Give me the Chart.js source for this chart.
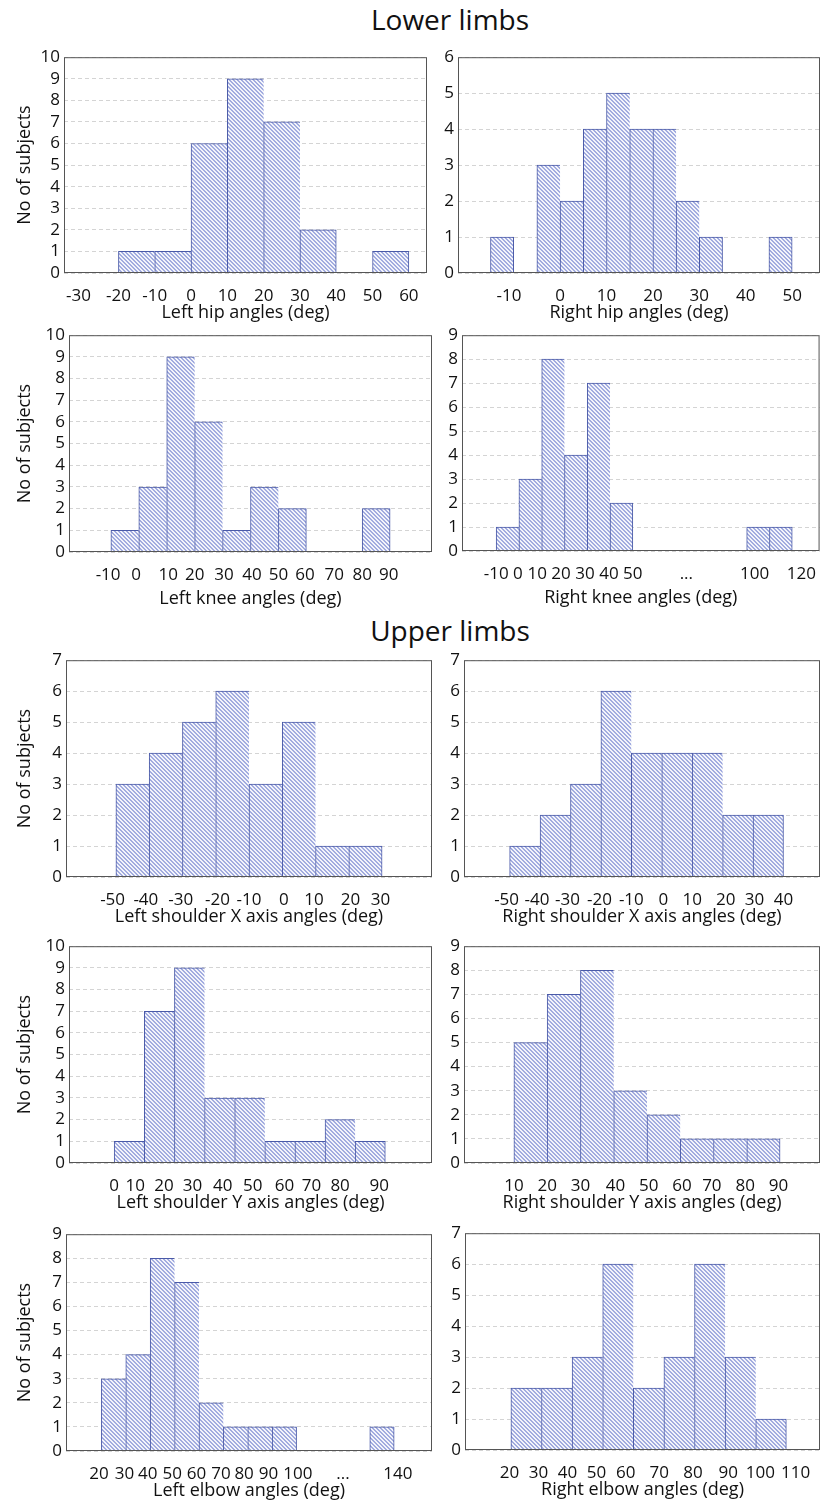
<!DOCTYPE html>
<html>
<head>
<meta charset="utf-8">
<script src="https://cdn.jsdelivr.net/npm/chart.js@4.4.1/dist/chart.umd.min.js"></script>
<style>
    body { margin: 0; background: #fff; width: 821px; height: 1502px; position: relative; overflow: hidden; font-family: "Open Sans", sans-serif; }
    .heading { position: absolute; left: 0; width: 900px; text-align: center; font-size: 28px; line-height: 30px; color: #111; }
    .panel { position: absolute; }
</style>
</head>
<body>
<div class="heading" style="top:4px">Lower limbs</div>
<div class="heading" style="top:615px">Upper limbs</div>
<script>
// bins are given by their lower edge (deg), counts are No of subjects
const leftHipBins = [-20, -10, 0, 10, 20, 30, 50];
const leftHipCounts = [1, 1, 6, 9, 7, 2, 1];
const leftHipTicks = [-31, -20, -10, 0, 10, 20, 30, 40, 50, 60];
const leftHipLabels = ['-30', '-20', '-10', '0', '10', '20', '30', '40', '50', '60'];

const rightHipBins = [-15, -5, 0, 5, 10, 15, 20, 25, 30, 45];
const rightHipCounts = [1, 3, 2, 4, 5, 4, 4, 2, 1, 1];
const rightHipTicks = [-11, 0, 10, 20, 30, 40, 50];
const rightHipLabels = ['-10', '0', '10', '20', '30', '40', '50'];

const leftKneeBins = [-10, 0, 10, 20, 30, 40, 50, 80];
const leftKneeCounts = [1, 3, 9, 6, 1, 3, 2, 2];
const leftKneeTicks = [-11, -1, 10.5, 20, 30.5, 40.5, 50, 59.5, 70, 80, 89.5];
const leftKneeLabels = ['-10', '0', '10', '20', '30', '40', '50', '60', '70', '80', '90'];

const rightKneeBins = [-10, 0, 10, 20, 30, 40, 100, 110];
const rightKneeCounts = [1, 3, 8, 4, 7, 2, 1, 1];
const rightKneeTicks = [-10, -0.5, 8, 18.5, 29, 39.5, 50, 73.5, 103.5, 124];
const rightKneeLabels = ['-10', '0', '10', '20', '30', '40', '50', '...', '100', '120'];

const leftShXBins = [-50, -40, -30, -20, -10, 0, 10, 20];
const leftShXCounts = [3, 4, 5, 6, 3, 5, 1, 1];
const leftShXTicks = [-51, -41, -30.5, -19.5, -10, 0.5, 9.5, 20.5, 29.5];
const leftShXLabels = ['-50', '-40', '-30', '-20', '-10', '0', '10', '20', '30'];

const rightShXBins = [-50, -40, -30, -20, -10, 0, 10, 20, 30];
const rightShXCounts = [1, 2, 3, 6, 4, 4, 4, 2, 2];
const rightShXTicks = [-51, -41, -31, -20.5, -10, 0.5, 10, 21, 30.5, 40];
const rightShXLabels = ['-50', '-40', '-30', '-20', '-10', '0', '10', '20', '30', '40'];

const leftShYBins = [0, 10, 20, 30, 40, 50, 60, 70, 80];
const leftShYCounts = [1, 7, 9, 3, 3, 1, 1, 2, 1];
const leftShYTicks = [0, 7, 16.5, 26, 36, 46, 56.5, 65.5, 75, 88];
const leftShYLabels = ['0', '10', '20', '30', '40', '50', '60', '70', '80', '90'];

const rightShYBins = [10, 20, 30, 40, 50, 60, 70, 80];
const rightShYCounts = [5, 7, 8, 3, 2, 1, 1, 1];
const rightShYTicks = [10, 20, 30, 40.5, 50.5, 60.5, 69.5, 79.5, 89.5];
const rightShYLabels = ['10', '20', '30', '40', '50', '60', '70', '80', '90'];

const leftElbowBins = [20, 30, 40, 50, 60, 70, 80, 90, 130];
const leftElbowCounts = [3, 4, 8, 7, 2, 1, 1, 1, 1];
const leftElbowTicks = [19, 29.5, 39, 49, 59, 69, 78.5, 88.5, 100.5, 119, 141.5];
const leftElbowLabels = ['20', '30', '40', '50', '60', '70', '80', '90', '100', '...', '140'];

const rightElbowBins = [20, 30, 40, 50, 60, 70, 80, 90, 100];
const rightElbowCounts = [2, 2, 3, 6, 2, 3, 6, 3, 1];
const rightElbowTicks = [19.5, 29, 38.5, 48, 57.5, 68.5, 79.5, 91, 101.5, 113];
const rightElbowLabels = ['20', '30', '40', '50', '60', '70', '80', '90', '100', '110'];

// layout of the panels: plot box [left, top, right, bottom] in page pixels
let panels = [
    {title: 'Left hip angles (deg)', bins: leftHipBins, counts: leftHipCounts, ticks: leftHipTicks, labels: leftHipLabels, step: 10, xr: [-35, 65], ymax: 10, col: 0, box: [64, 55, 427, 273], xh: 51},
    {title: 'Right hip angles (deg)', bins: rightHipBins, counts: rightHipCounts, ticks: rightHipTicks, labels: rightHipLabels, step: 5, xr: [-22, 56], ymax: 6, col: 1, box: [458, 55, 820, 273], xh: 51},
    {title: 'Left knee angles (deg)', bins: leftKneeBins, counts: leftKneeCounts, ticks: leftKneeTicks, labels: leftKneeLabels, step: 10, xr: [-25, 105], ymax: 10, col: 0, box: [69, 333, 432, 552], xh: 58},
    {title: 'Right knee angles (deg)', bins: rightKneeBins, counts: rightKneeCounts, ticks: rightKneeTicks, labels: rightKneeLabels, step: 10, xr: [-25, 132], ymax: 9, col: 1, box: [462, 333, 820, 551], xh: 58},
    {title: 'Left shoulder X axis angles (deg)', bins: leftShXBins, counts: leftShXCounts, ticks: leftShXTicks, labels: leftShXLabels, step: 10, xr: [-65, 45], ymax: 7, col: 0, box: [66, 658, 432, 877], xh: 51},
    {title: 'Right shoulder X axis angles (deg)', bins: rightShXBins, counts: rightShXCounts, ticks: rightShXTicks, labels: rightShXLabels, step: 10, xr: [-65, 52], ymax: 7, col: 1, box: [464, 658, 820, 877], xh: 51},
    {title: 'Left shoulder Y axis angles (deg)', bins: leftShYBins, counts: leftShYCounts, ticks: leftShYTicks, labels: leftShYLabels, step: 10, xr: [-15, 105.5], ymax: 10, col: 0, box: [69, 944, 432, 1163], xh: 51},
    {title: 'Right shoulder Y axis angles (deg)', bins: rightShYBins, counts: rightShYCounts, ticks: rightShYTicks, labels: rightShYLabels, step: 10, xr: [-5, 102], ymax: 9, col: 1, box: [464, 944, 820, 1163], xh: 51},
    {title: 'Left elbow angles (deg)', bins: leftElbowBins, counts: leftElbowCounts, ticks: leftElbowTicks, labels: leftElbowLabels, step: 10, xr: [5.5, 155.5], ymax: 9, col: 0, box: [66, 1232, 432, 1451], xh: 51},
    {title: 'Right elbow angles (deg)', bins: rightElbowBins, counts: rightElbowCounts, ticks: rightElbowTicks, labels: rightElbowLabels, step: 10, xr: [5, 121], ymax: 7, col: 1, box: [465, 1231, 820, 1450], xh: 51}
];

const tickFont = {family: '"Open Sans", sans-serif', size: 17};
const titleFont = {family: '"Open Sans", sans-serif', size: 18};
const textColor = '#111';

// plot frame round the chart area
const framePlugin = {
    id: 'frame',
    afterDraw(chart) {
        let a = chart.chartArea;
        let c = chart.ctx;
        c.save();
        c.strokeStyle = '#555';
        c.lineWidth = 1;
        c.strokeRect(a.left + 0.5, a.top + 0.5, a.right - a.left - 1, a.bottom - a.top - 1);
        c.restore();
    }
};

function hatchFor(ctx) {
    let tile = document.createElement('canvas');
    tile.width = 4;
    tile.height = 4;
    let t = tile.getContext('2d');
    t.fillStyle = '#f3f4fb';
    t.fillRect(0, 0, 4, 4);
    t.fillStyle = '#a2acdf';
    for (let i = 0; i < 4; i++) {
        t.fillRect(i, i, 1, 1);
        t.fillRect((i + 1) % 4, i, 1, 1);
    }
    return ctx.createPattern(tile, 'repeat');
}

function makeHistogram(p) {
    let padTop = 12, padRight = 1;
    let [L, T, R, B] = p.box;
    let yW = p.col === 0 ? L : 40;
    let x0 = L - yW;
    let w = R + padRight - x0;
    let h = padTop + (B - T) + p.xh;

    let div = document.createElement('div');
    div.className = 'panel';
    div.style.left = x0 + 'px';
    div.style.top = (T - padTop) + 'px';
    let canvas = document.createElement('canvas');
    canvas.width = w;
    canvas.height = h;
    canvas.style.width = w + 'px';
    canvas.style.height = h + 'px';
    div.appendChild(canvas);
    document.body.appendChild(div);
    let ctx = canvas.getContext('2d');

    return new Chart(ctx, {
        type: 'bar',
        data: {
            datasets: [{
                data: p.bins.map((b, i) => ({x: b + p.step / 2, y: p.counts[i]})),
                backgroundColor: hatchFor(ctx),
                borderColor: '#4a5aa8',
                borderWidth: function (c) {
                    let i = c.dataIndex;
                    let next = p.bins[i + 1];
                    let joined = next !== undefined && Math.abs(next - p.bins[i] - p.step) < 1e-9;
                    return {top: 1, left: 1, bottom: 0, right: joined ? 0 : 1};
                },
                borderSkipped: false,
                barPercentage: 1,
                categoryPercentage: 1,
                xAxisID: 'x',
                yAxisID: 'y'
            }]
        },
        options: {
            responsive: false,
            animation: false,
            layout: {autoPadding: false, padding: {top: padTop, right: padRight, left: 0, bottom: 0}},
            plugins: {legend: {display: false}, tooltip: {enabled: false}},
            scales: {
                x: {
                    type: 'linear', display: false, offset: false, min: p.xr[0], max: p.xr[1],
                    afterBuildTicks: function (a) { a.ticks = []; }
                },
                xl: {
                    type: 'linear', position: 'bottom', offset: false, min: p.xr[0], max: p.xr[1],
                    grid: {display: false, offset: false},
                    border: {display: false},
                    afterBuildTicks: function (a) { a.ticks = p.ticks.map(v => ({value: v})); },
                    ticks: {
                        autoSkip: false, maxRotation: 0, minRotation: 0, padding: 5,
                        font: tickFont, color: textColor,
                        callback: (v, i) => p.labels[i]
                    },
                    title: {display: true, text: p.title, font: titleFont, color: textColor, padding: {top: 0, bottom: 0}},
                    afterFit: function (a) { a.height = p.xh; }
                },
                y: {
                    min: 0, max: p.ymax,
                    ticks: {stepSize: 1, autoSkip: false, padding: 4, font: tickFont, color: textColor},
                    grid: {color: '#d4d4d4', drawTicks: false},
                    border: {display: false, dash: [4, 3]},
                    title: {display: p.col === 0, text: 'No of subjects', font: titleFont, color: textColor, padding: {top: 14, bottom: 0}},
                    afterFit: function (a) { a.width = yW; }
                }
            }
        },
        plugins: [framePlugin]
    });
}

panels.forEach(p => makeHistogram(p));
</script>
</body>
</html>
